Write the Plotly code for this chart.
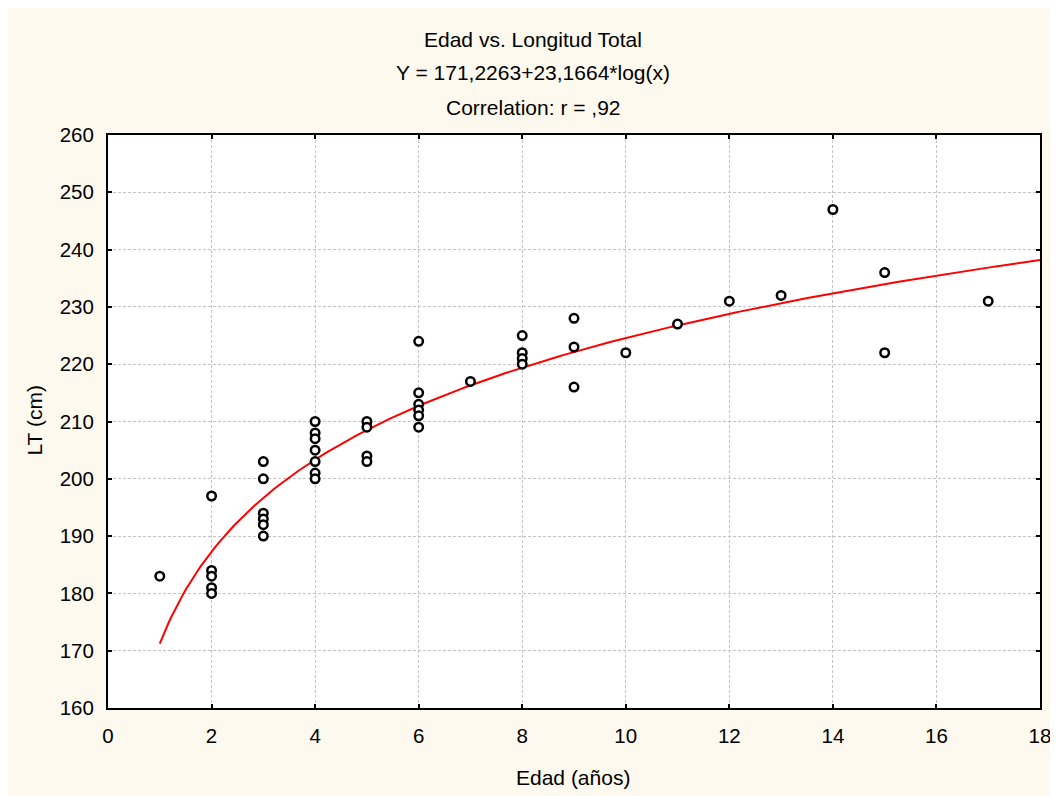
import numpy as np
import plotly.graph_objects as go

# Observed data: age (years) and total length (cm)
edad = [1,
        2, 2, 2, 2, 2,
        3, 3, 3, 3, 3, 3,
        4, 4, 4, 4, 4, 4, 4,
        5, 5, 5, 5,
        6, 6, 6, 6, 6, 6,
        7,
        8, 8, 8, 8,
        9, 9, 9,
        10, 11, 12, 13, 14,
        15, 15,
        17]
longitud = [183,
            197, 184, 183, 181, 180,
            203, 200, 194, 193, 192, 190,
            210, 208, 207, 205, 203, 201, 200,
            210, 209, 204, 203,
            224, 215, 213, 212, 211, 209,
            217,
            225, 222, 221, 220,
            228, 223, 216,
            222, 227, 231, 232, 247,
            236, 222,
            231]

# Fitted model from the chart title: Y = a + b*log(x)
coef_a = 171.2263
coef_b = 23.1664
fit_x_range = [1, 18]

x_ticks = [0, 2, 4, 6, 8, 10, 12, 14, 16, 18]
y_ticks = [160, 170, 180, 190, 200, 210, 220, 230, 240, 250, 260]

title_lines = ["Edad vs. Longitud Total",
               "Y = 171,2263+23,1664*log(x)",
               "Correlation: r = ,92"]
x_title = "Edad (años)"
y_title = "LT (cm)"

fx = np.linspace(fit_x_range[0], fit_x_range[1], 300)
fy = coef_a + coef_b * np.log(fx)

FONT = "Liberation Sans, Arial, sans-serif"
CREAM = "#fdf9ee"
FS = 21

fig = go.Figure()
fig.add_trace(go.Scatter(x=fx, y=fy, mode="lines",
                         line=dict(color="#ff0000", width=2),
                         hoverinfo="skip", showlegend=False))
fig.add_trace(go.Scatter(x=edad, y=longitud, mode="markers",
                         marker=dict(symbol="circle", size=8.5, color="white",
                                     line=dict(color="black", width=2.5)),
                         showlegend=False))

W, H = 1058, 796
L, R, T, B = 100, 1032, 127, 700
pw, ph = R - L, B - T

def px(xp):
    return (xp - L) / pw

def py(yp):
    return (B - yp) / ph

axis_common = dict(showline=True, linecolor="black", linewidth=2, mirror="ticks",
                   ticks="inside", ticklen=4, tickwidth=2, tickcolor="black",
                   showgrid=True, gridcolor="#c4c4c4", gridwidth=1, griddash="3px,2px",
                   zeroline=False,
                   tickfont=dict(family=FONT, size=FS - 0.5, color="black"))

fig.update_xaxes(range=[0, 18], tickvals=x_ticks, ticklabelstandoff=8, **axis_common)
fig.update_yaxes(range=[160, 260], tickvals=y_ticks, ticklabelstandoff=8, **axis_common)

annotations = []
for txt, yp in zip(title_lines, [31, 65, 99]):
    annotations.append(dict(text=txt, x=px(525), y=py(yp), xref="paper", yref="paper",
                            showarrow=False, xanchor="center", yanchor="middle",
                            font=dict(family=FONT, size=FS, color="black")))
annotations.append(dict(text=x_title, x=px(565), y=py(769), xref="paper", yref="paper",
                        showarrow=False, xanchor="center", yanchor="middle",
                        font=dict(family=FONT, size=FS, color="black")))
annotations.append(dict(text=y_title, x=px(25.5), y=py(413), xref="paper", yref="paper",
                        showarrow=False, xanchor="center", yanchor="middle", textangle=-90,
                        font=dict(family=FONT, size=FS, color="black")))

fig.update_layout(width=W, height=H,
                  margin=dict(l=L, r=W - R, t=T, b=H - B),
                  paper_bgcolor=CREAM, plot_bgcolor="white",
                  annotations=annotations,
                  font=dict(family=FONT, size=FS, color="black"))

fig.write_html("out.html")
